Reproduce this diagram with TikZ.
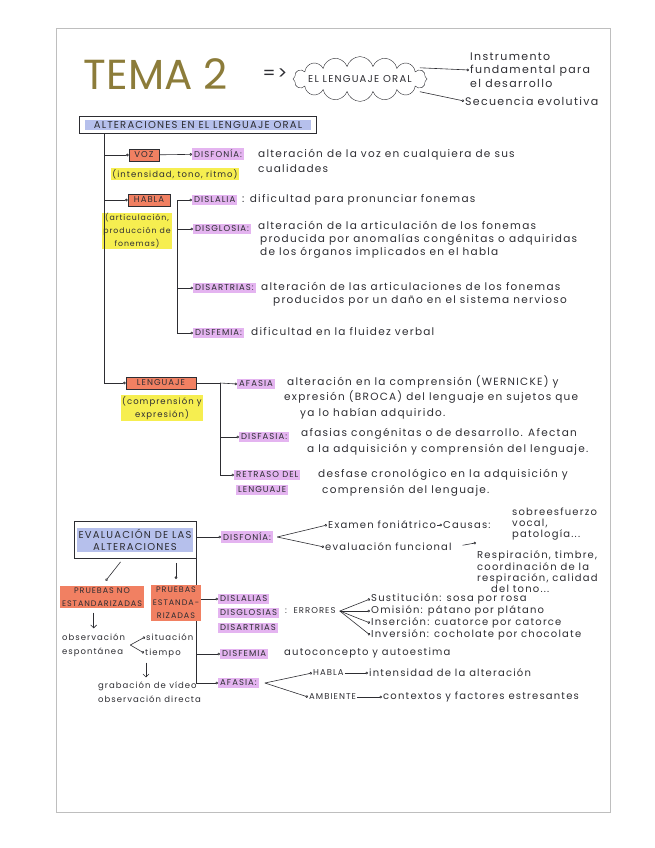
\documentclass[tikz,border=0pt]{standalone}
\usepackage{fontspec}
\setmainfont{Poppins}[LetterSpace=12]
\usetikzlibrary{positioning,arrows.meta,shapes.symbols,fit,calc}
\definecolor{cInk}{RGB}{45,45,50}
\definecolor{cTema}{RGB}{140,124,58}
\definecolor{cPurple}{RGB}{228,180,240}
\definecolor{cOrange}{RGB}{241,128,98}
\definecolor{cYellow}{RGB}{246,238,80}
\definecolor{cBlue}{RGB}{182,192,236}
\definecolor{cEdge}{RGB}{190,190,190}
\tikzset{
  txt/.style={font=\fontsize{10.5}{14}\selectfont, text=cInk, inner sep=1pt, align=left, anchor=west},
  txts/.style={txt, font=\fontsize{10}{12}\selectfont},
  txtxs/.style={txt, font=\fontsize{8.5}{14}\selectfont},
  capt/.style={font=\fontsize{8.5}{14}\selectfont, text=cInk, inner sep=1pt, align=left},
  bigcap/.style={capt, font=\fontsize{10}{12}\selectfont},
  hlp/.style={capt, fill=cPurple, inner sep=2pt, anchor=west},
  hly/.style={font=\fontsize{8.5}{13}\selectfont, text=cInk, fill=cYellow, inner sep=1pt, align=center},
  hlo/.style={capt, font=\fontsize{8}{13}\selectfont, fill=cOrange, inner sep=2pt, align=center},
  hlb/.style={bigcap, fill=cBlue, inner sep=1.5pt, align=center},
  catbox/.style={capt, fill=cOrange, draw=cInk, line width=0.7pt, inner xsep=4pt, inner ysep=3pt, minimum width=30pt},
  frame/.style={draw=cInk, line width=0.8pt},
  lnk/.style={draw=cInk, line width=0.6pt, -{Circle[open,length=2.6pt]}},
  dwn/.style={draw=cInk, line width=0.6pt, -{Straight Barb[length=3pt]}},
  bar/.style={draw=cInk, line width=0.8pt},
}
\begin{document}
\begin{tikzpicture}[x=1pt,y=-1pt]
  \useasboundingbox (0,0) rectangle (655,848);
  \draw[cEdge, line width=0.8pt] (56,28) rectangle (610,812);
  % header
  \node[font=\fontsize{42}{42}\selectfont\addfontfeature{LetterSpace=0}, text=cTema] (tema) at (156,74) {TEMA 2};
  \node[font=\fontsize{18}{18}\selectfont, text=cInk] (impl) at (275,74) {=>};
  \node[cloud, draw=cInk, cloud puffs=16, aspect=5, bigcap, inner xsep=-6pt, inner ysep=0pt,
        minimum width=134pt, minimum height=29pt] (oral) at (360,79) {EL LENGUAJE ORAL};
  \node[txt, font=\fontsize{11}{13.5}\selectfont] (instr) at (469,70) {Instrumento\\fundamental para\\el desarrollo};
  \node[txt, font=\fontsize{11}{13.5}\selectfont] (secu) at (464,101) {Secuencia evolutiva};
  \draw[lnk, shorten <=6pt] (oral.12) -- (instr.west);
  \draw[lnk, shorten <=6pt] (oral.-12) -- (secu.west);

  % alteraciones
  \node[hlb, minimum width=226pt] (alttxt) at (198,125) {ALTERACIONES EN EL LENGUAJE ORAL};
  \node[frame, fit=(alttxt), inner xsep=5pt, inner ysep=3pt] (alt) {};
  \coordinate (trunk) at ($(alt.south west)+(25,0)$);

  \node[catbox] (voz) at (144,155) {VOZ};
  \node[hly] (vozd) at (175,174) {(intensidad, tono, ritmo)};
  \node[catbox, minimum width=42pt] (habla) at (149,200) {HABLA};
  \node[hly, font=\fontsize{7.8}{13}\selectfont] (hablad) at (137,231) {(articulación,\\producción de\\fonemas)};
  \node[catbox, minimum width=70pt] (leng) at (161,383) {LENGUAJE};
  \node[hly] (lengd) at (162,408) {(comprensión y\\expresión)};
  \draw[lnk] (trunk) |- (voz.west);
  \draw[lnk] (trunk) |- (habla.west);
  \draw[lnk] (trunk) |- (leng.west);

  % voz
  \node[hlp] (disfonia) at (192,154) {DISFONÍA:};
  \node[txt, font=\fontsize{10.5}{15}\selectfont] (disfoniad) at (257,161) {alteración de la voz en cualquiera de sus\\cualidades};
  \draw[lnk] (voz) -- (disfonia);

  % habla
  \coordinate (hbar) at ($(habla.east)+(7,0)$);
  \node[hlp] (dislalia) at (192,200) {DISLALIA};
  \node[txt] (dislaliad) at (241,200) {: dificultad para pronunciar fonemas};
  \node[hlp] (disglosia) at (193,229) {DISGLOSIA:};
  \node[txt, font=\fontsize{10.5}{13}\selectfont] (disglosiad) at (257,240) {alteración de la articulación de los fonemas\\\hspace*{2pt}producida por anomalías congénitas o adquiridas\\\hspace*{2pt}de los órganos implicados en el habla};
  \node[hlp] (disartria) at (193,288) {DISARTRIAS:};
  \node[txt, font=\fontsize{10.5}{13}\selectfont] (disartriad) at (260,294) {alteración de las articulaciones de los fonemas\\\hspace*{12pt}producidos por un daño en el sistema nervioso};
  \node[hlp] (disfemia) at (193,333) {DISFEMIA:};
  \node[txt] (disfemiad) at (250,332) {dificultad en la fluidez verbal};
  \draw[lnk] (hbar) -- (dislalia.west);
  \draw[lnk] (hbar) |- (disglosia.west);
  \draw[lnk] (hbar) |- (disartria.west);
  \draw[lnk] (hbar) |- (disfemia.west);

  % lenguaje
  \coordinate (lbar) at (220,383);
  \node[hlp] (afasia) at (237,384) {AFASIA};
  \node[txt, font=\fontsize{10.5}{15.5}\selectfont] (afasiad) at (283,397) {\hspace*{3pt}alteración en la comprensión (WERNICKE) y\\expresión (BROCA) del lenguaje en sujetos que\\\hspace*{16pt}ya lo habían adquirido.};
  \node[hlp] (disfasia) at (239,437) {DISFASIA:};
  \node[txt, font=\fontsize{10.5}{16}\selectfont] (disfasiad) at (300,442) {afasias congénitas o de desarrollo. Afectan\\\hspace*{6pt}a la adquisición y comprensión del lenguaje.};
  \node[hlp] (retraso) at (234,475) {RETRASO DEL};
  \node[hlp] (retraso2) at (236,490) {LENGUAJE};
  \node[txt, font=\fontsize{10.5}{16}\selectfont] (retrasod) at (317,483) {desfase cronológico en la adquisición y\\\hspace*{4pt}comprensión del lenguaje.};
  \draw[bar] (leng.east) -- (lbar);
  \draw[lnk] (lbar) -- (afasia.west);
  \draw[lnk] (lbar) |- (disfasia.west);
  \draw[lnk] (lbar) |- (retraso.west);

  % evaluacion
  \node[hlb] (evaltxt) at (135,540) {EVALUACIÓN DE LAS\\ALTERACIONES};
  \node[frame, fit=(evaltxt), inner xsep=3pt, inner ysep=6pt] (eval) {};
  \node[hlp] (disfonia2) at (221,537) {DISFONÍA:};
  \coordinate (fk1) at ($(disfonia2.east)+(4,0)$);
  \node[txts] (examen) at (327,525) {Examen foniátrico};
  \node[txts] (evalf) at (324,547) {evaluación funcional};
  \node[txts] (causas) at (442,525) {Causas:};
  \node[txts, font=\fontsize{10}{11}\selectfont] (sobre) at (511,524) {sobreesfuerzo\\vocal,\\patología...};
  \node[txts, font=\fontsize{10}{11.3}\selectfont] (resp) at (476,572) {Respiración, timbre,\\coordinación de la\\respiración, calidad\\\hspace*{14pt}del tono...};
  \draw[lnk] (eval.east |- disfonia2) -- (disfonia2.west);
  \draw[lnk] (fk1) -- (examen.west);
  \draw[lnk] (fk1) -- (evalf.west);
  \draw[lnk] (examen) -- (causas);
  \draw[lnk, shorten <=10pt] (evalf.east) -- ([yshift=7]resp.north west);

  \node[hlp] (dlal) at (218,599) {DISLALIAS};
  \node[hlp] (dglo) at (218,613) {DISGLOSIAS};
  \node[hlp] (dart) at (218,628) {DISARTRIAS};
  \node[capt, anchor=west] (errores) at (284,611) {:\ \ ERRORES};
  \coordinate (fk2) at ($(errores.east)+(3,0)$);
  \node[txts] (sust) at (370,599) {Sustitución: sosa por rosa};
  \node[txts] (omis) at (370,611) {Omisión: pátano por plátano};
  \node[txts] (inse) at (370,623) {Inserción: cuatorce por catorce};
  \node[txts] (inve) at (370,635) {Inversión: cocholate por chocolate};
  \draw[lnk] (eval.south east) |- (dlal.west);
  \foreach \n in {sust,omis,inse,inve}
    \draw[lnk] (fk2) -- (\n.west);

  \node[hlp] (disfemia2) at (220,654) {DISFEMIA};
  \node[txts] (autoc) at (283,653) {autoconcepto y autoestima};
  \draw[lnk] (eval.south east) |- (disfemia2.west);

  \node[hlp] (afasia2) at (218,683) {AFASIA:};
  \coordinate (fk3) at ($(afasia2.east)+(6,0)$);
  \node[capt, anchor=west] (hablab) at (312,673) {HABLA};
  \node[txts] (intens) at (368,673) {intensidad de la alteración};
  \node[capt, anchor=west] (ambi) at (308,697) {AMBIENTE};
  \node[txts] (contx) at (382,697) {contextos y factores estresantes};
  \draw[lnk] (eval.south east) |- (afasia2.west);
  \draw[lnk] (fk3) -- (hablab.west);
  \draw[lnk] (fk3) -- (ambi.west);
  \draw[lnk] (hablab) -- (intens);
  \draw[lnk] (ambi) -- (contx);

  % pruebas
  \node[hlo] (pne) at (102,597) {PRUEBAS NO\\ESTANDARIZADAS};
  \node[hlo] (pe) at (176,603) {PRUEBAS\\ESTANDA-\\RIZADAS};
  \draw[lnk, shorten <=4pt, shorten >=6pt] ([xshift=-12]eval.south) -- (pne.north);
  \draw[lnk, shorten <=4pt, shorten >=6pt] (eval.south -| pe.north) -- (pe.north);
  \node[txtxs] (obs) at (61,645) {observación\\espontánea};
  \node[txtxs] (sit) at (145,637) {situación};
  \node[txtxs] (tiem) at (144,653) {tiempo};
  \node[txtxs] (grab) at (97,692) {grabación de vídeo\\observación directa};
  \draw[dwn, shorten <=4pt, shorten >=4pt] (pne.south -| obs.north) -- (obs.north);
  \coordinate (fk4) at ($(obs.east)+(4,0)$);
  \draw[lnk] (fk4) -- (sit.west);
  \draw[lnk] (fk4) -- (tiem.west);
  \draw[dwn, shorten <=4pt, shorten >=3pt] ([xshift=2]tiem.south west) -- ([xshift=2]tiem.south west |- grab.north);
\end{tikzpicture}
\end{document}
